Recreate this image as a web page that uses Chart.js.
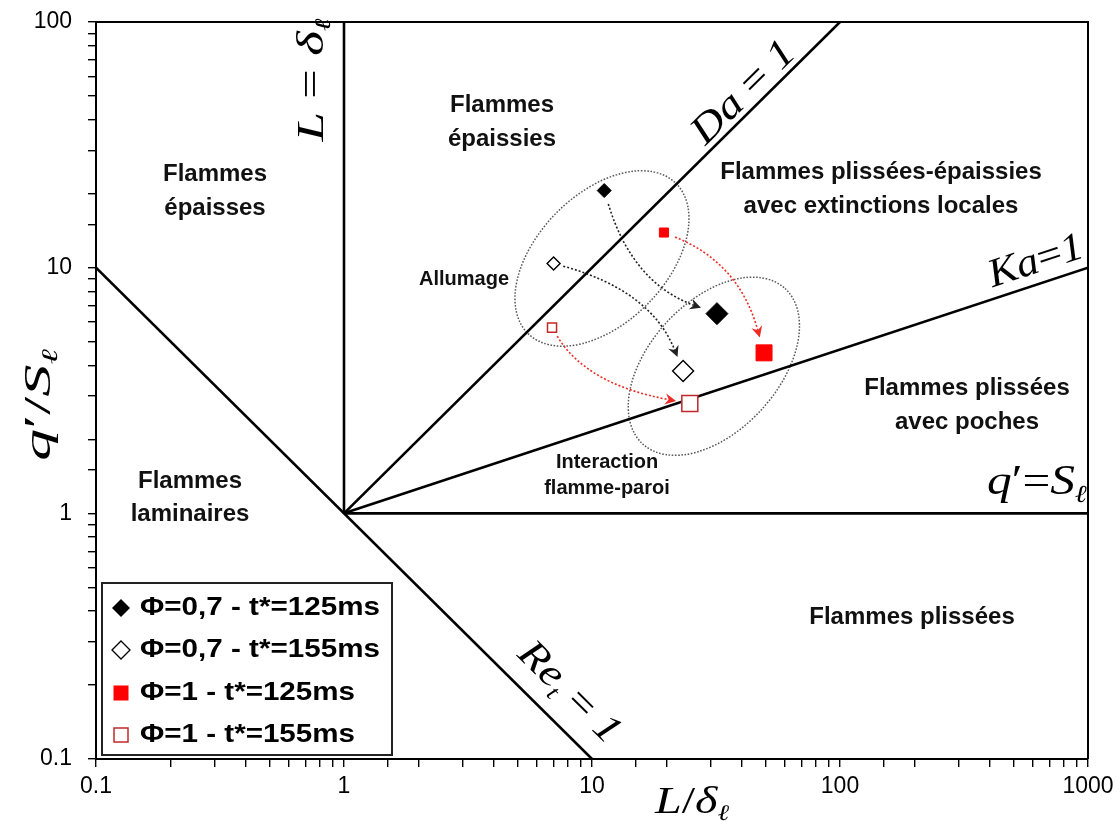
<!DOCTYPE html>
<html><head><meta charset="utf-8">
<script src="https://cdn.jsdelivr.net/npm/chart.js@4.4.1/dist/chart.umd.min.js"></script>
<style>html,body{margin:0;padding:0;background:#fff;}#wrap{width:1120px;height:828px;}</style>
</head><body><div id="wrap"><canvas id="c" width="1120" height="828"></canvas></div>
<script>
// ---- data ----
const xTickLabels = [0.1, 1, 10, 100, 1000];
const yTickLabels = [0.1, 1, 10, 100];

// regime boundaries
const reLineX = [0.1, 10];   const reLineY = [10, 0.1];     // Re_t = 1
const deltaLineX = [1, 1];   const deltaLineY = [1, 100];   // L = delta
const daLineX = [1, 100];    const daLineY = [1, 100];      // Da = 1
const kaLineX = [1, 1000];   const kaLineY = [1, 10];       // Ka = 1
const sLineX = [1, 1000];    const sLineY = [1, 1];         // q' = S

// measured points: [ignition, wall interaction]
const seriesLabels = ['Φ=0,7 - t*=125ms', 'Φ=0,7 - t*=155ms', 'Φ=1 - t*=125ms', 'Φ=1 - t*=155ms'];
const phi07_125X = [11.2, 31.9]; const phi07_125Y = [20.6, 6.5];
const phi07_155X = [7.0, 23.3];  const phi07_155Y = [10.4, 3.8];
const phi1_125X  = [19.5, 49.4]; const phi1_125Y  = [13.9, 4.5];
const phi1_155X  = [6.9, 24.8];  const phi1_155Y  = [5.7, 2.8];

// grouping ellipses (centre in data units)
const ellipseCX = [10.97, 31.0];
const ellipseCY = [10.9, 3.97];

// ---- helpers ----
const toPts = (xs, ys) => xs.map((x, i) => ({x: x, y: ys[i]}));
const lineDs = (xs, ys) => ({data: toPts(xs, ys), showLine: true, borderColor: '#000', borderWidth: 2.6,
  pointRadius: 0, pointHoverRadius: 0, fill: false, order: 1});
const SANS = "'Liberation Sans', Arial, sans-serif";
const SERIF = "'Liberation Serif', 'Times New Roman', serif";

const isDecade = v => Math.abs(Math.log10(v) - Math.round(Math.log10(v))) < 1e-6;
const tickCb = labels => function (v) {
  if (!isDecade(v)) return '';
  const f = labels.find(l => Math.abs(Math.log10(l) - Math.log10(v)) < 1e-6);
  return f === undefined ? '' : String(f);
};

function drawMath(ctx, parts, cx, cy, angleDeg, size, targetLen) {
  ctx.save();
  const segs = parts.map(p => {
    const fs = p.sub ? size * 0.58 : size;
    const font = (p.it ? 'italic ' : '') + fs + 'px ' + SERIF;
    ctx.font = font;
    return {t: p.t, font: font, w: ctx.measureText(p.t).width, dy: p.sub ? size * 0.3 : 0};
  });
  const total = segs.reduce((s, g) => s + g.w, 0);
  const sx = targetLen ? targetLen / total : 1;
  ctx.translate(cx, cy);
  ctx.rotate(angleDeg * Math.PI / 180);
  ctx.scale(sx, 1);
  ctx.textBaseline = 'middle';
  ctx.textAlign = 'left';
  ctx.fillStyle = '#000';
  let x = -total / 2;
  segs.forEach(g => { ctx.font = g.font; ctx.fillText(g.t, x, g.dy); x += g.w; });
  ctx.restore();
}

function fitText(ctx, s, x, y, font, targetW, align) {
  ctx.save();
  ctx.font = font;
  const w = ctx.measureText(s).width;
  const sx = targetW ? targetW / w : 1;
  ctx.translate(x, y);
  ctx.scale(sx, 1);
  ctx.textAlign = align || 'left';
  ctx.textBaseline = 'middle';
  ctx.fillStyle = '#000';
  ctx.fillText(s, 0, 0);
  ctx.restore();
}

// ---- annotation styles ----
const arrowStyles = [
  {color: '#222', mode: 'v', g0: 14, g1: 17},
  {color: '#222', mode: 'h', g0: 10, g1: 15},
  {color: '#ee2a24', mode: 'h', g0: 12, g1: 16},
  {color: '#ee2a24', mode: 'v', g0: 10, g1: 14}
];
const ellipseShape = [{a: 0.425, b: 0.26, tilt: 45.5}, {a: 0.425, b: 0.26, tilt: 47.5}];

const regionLabels = [
  {lines: ['Flammes', 'épaisses'], x: 215, y: [174, 208]},
  {lines: ['Flammes', 'épaissies'], x: 502, y: [105, 139]},
  {lines: ['Flammes plissées-épaissies', 'avec extinctions locales'], x: 881, y: [172, 206]},
  {lines: ['Flammes plissées', 'avec poches'], x: 967, y: [388, 422]},
  {lines: ['Flammes', 'laminaires'], x: 190, y: [481, 514]},
  {lines: ['Flammes plissées'], x: 912, y: [617]}
];
const smallLabels = [
  {lines: ['Allumage'], x: 464, y: [279]},
  {lines: ['Interaction', 'flamme-paroi'], x: 607, y: [462, 488]}
];

const decor = {
  id: 'decor',
  beforeDatasetsDraw(chart) {
    const ctx = chart.ctx, xs = chart.scales.x, ys = chart.scales.y;
    const dec = xs.getPixelForValue(10) - xs.getPixelForValue(1);
    ctx.save();
    ctx.strokeStyle = '#5a5a5a';
    ctx.lineWidth = 1.5;
    ctx.setLineDash([1.6, 1.6]);
    ellipseCX.forEach((cx, i) => {
      const e = ellipseShape[i];
      ctx.beginPath();
      ctx.ellipse(xs.getPixelForValue(cx), ys.getPixelForValue(ellipseCY[i]), e.a * dec, e.b * dec,
        -e.tilt * Math.PI / 180, 0, Math.PI * 2);
      ctx.stroke();
    });
    ctx.restore();
    const pts = [[phi07_125X, phi07_125Y], [phi07_155X, phi07_155Y], [phi1_125X, phi1_125Y], [phi1_155X, phi1_155Y]];
    pts.forEach((p, i) => {
      const st = arrowStyles[i];
      const S = {x: xs.getPixelForValue(p[0][0]), y: ys.getPixelForValue(p[1][0])};
      const E = {x: xs.getPixelForValue(p[0][1]), y: ys.getPixelForValue(p[1][1])};
      const corner = st.mode === 'v' ? {x: S.x, y: E.y} : {x: E.x, y: S.y};
      const M = {x: (S.x + E.x) / 2, y: (S.y + E.y) / 2};
      const C = {x: M.x + 0.5 * (corner.x - M.x), y: M.y + 0.5 * (corner.y - M.y)};
      const unit = (a, b) => { const dx = b.x - a.x, dy = b.y - a.y, l = Math.hypot(dx, dy); return {x: dx / l, y: dy / l}; };
      const u0 = unit(S, C), u1 = unit(E, C);
      const S2 = {x: S.x + u0.x * st.g0, y: S.y + u0.y * st.g0};
      const E2 = {x: E.x + u1.x * st.g1, y: E.y + u1.y * st.g1};
      const d = unit(C, E2);
      const L = 11, W = 5.5;
      const base = {x: E2.x - d.x * L, y: E2.y - d.y * L};
      const notch = {x: E2.x - d.x * (L - 3.5), y: E2.y - d.y * (L - 3.5)};
      ctx.save();
      ctx.strokeStyle = st.color;
      ctx.fillStyle = st.color;
      ctx.lineWidth = 1.6;
      ctx.setLineDash([2, 2]);
      ctx.beginPath();
      ctx.moveTo(S2.x, S2.y);
      ctx.quadraticCurveTo(C.x, C.y, notch.x, notch.y);
      ctx.stroke();
      ctx.setLineDash([]);
      ctx.beginPath();
      ctx.moveTo(E2.x, E2.y);
      ctx.lineTo(base.x - d.y * W, base.y + d.x * W);
      ctx.lineTo(notch.x, notch.y);
      ctx.lineTo(base.x + d.y * W, base.y - d.x * W);
      ctx.closePath();
      ctx.fill();
      ctx.restore();
    });
  },
  afterDraw(chart) {
    const ctx = chart.ctx, a = chart.chartArea;
    ctx.save();
    ctx.strokeStyle = '#000';
    ctx.lineWidth = 2;
    ctx.beginPath();
    ctx.moveTo(a.left, a.top); ctx.lineTo(a.right, a.top); ctx.lineTo(a.right, a.bottom);
    ctx.stroke();
    ctx.restore();
    ctx.save();
    ctx.fillStyle = '#111';
    ctx.textAlign = 'center';
    ctx.textBaseline = 'middle';
    ctx.font = 'bold 24px ' + SANS;
    regionLabels.forEach(l => l.lines.forEach((s, k) => ctx.fillText(s, l.x, l.y[k])));
    ctx.font = 'bold 20px ' + SANS;
    smallLabels.forEach(l => l.lines.forEach((s, k) => ctx.fillText(s, l.x, l.y[k])));
    ctx.restore();
    drawMath(ctx, [{t: 'L', it: 1}, {t: ' = '}, {t: 'δ', it: 1}, {t: 'ℓ', it: 1, sub: 1}], 313, 80, -90, 38, 123);
    drawMath(ctx, [{t: 'Da', it: 1}, {t: ' = '}, {t: '1', it: 1}], 744, 93, -44.7, 40, 130);
    drawMath(ctx, [{t: 'Ka', it: 1}, {t: '='}, {t: '1', it: 1}], 1036, 262, -18.3, 40, 98);
    drawMath(ctx, [{t: 'Re', it: 1}, {t: 't', it: 1, sub: 1}, {t: ' = '}, {t: '1', it: 1}], 569, 693, 44.7, 40, 128);
    drawMath(ctx, [{t: 'q', it: 1}, {t: '′'}, {t: '='}, {t: 'S', it: 1}, {t: 'ℓ', it: 1, sub: 1}], 1037, 483, 0, 42, 100);
    drawMath(ctx, [{t: 'L', it: 1}, {t: '/'}, {t: 'δ', it: 1}, {t: 'ℓ', it: 1, sub: 1}], 692, 803, 0, 38, 74);
    drawMath(ctx, [{t: 'q', it: 1}, {t: '′'}, {t: '/'}, {t: 'S', it: 1}, {t: 'ℓ', it: 1, sub: 1}], 40, 405, -90, 38, 112);
    // legend
    ctx.save();
    ctx.fillStyle = '#fff';
    ctx.fillRect(102, 583, 290, 172);
    ctx.strokeStyle = '#222';
    ctx.lineWidth = 2;
    ctx.strokeRect(102, 583, 290, 172);
    const rows = [608, 650, 693, 735];
    const sx = 121;
    ctx.fillStyle = '#000';
    ctx.beginPath(); ctx.moveTo(sx - 9, rows[0]); ctx.lineTo(sx, rows[0] - 9); ctx.lineTo(sx + 9, rows[0]); ctx.lineTo(sx, rows[0] + 9); ctx.closePath(); ctx.fill();
    ctx.strokeStyle = '#000'; ctx.lineWidth = 1.3;
    ctx.beginPath(); ctx.moveTo(sx - 9, rows[1]); ctx.lineTo(sx, rows[1] - 9); ctx.lineTo(sx + 9, rows[1]); ctx.lineTo(sx, rows[1] + 9); ctx.closePath(); ctx.stroke();
    ctx.fillStyle = '#ff0000'; ctx.fillRect(sx - 7.5, rows[2] - 7.5, 15, 15);
    ctx.strokeStyle = '#c0282a'; ctx.lineWidth = 1.5; ctx.strokeRect(sx - 7, rows[3] - 7, 14, 14);
    const widths = [240, 240, 215, 215];
    seriesLabels.forEach((s, i) => fitText(ctx, s, 140, rows[i], 'bold 26px ' + SANS, widths[i], 'left'));
    ctx.restore();
  }
};

const tickFont = {family: SANS, size: 23};
new Chart(document.getElementById('c'), {
  type: 'scatter',
  data: {
    datasets: [
      {label: seriesLabels[0], data: toPts(phi07_125X, phi07_125Y), pointStyle: 'rectRot', pointRadius: [7, 11],
        backgroundColor: '#000', borderColor: '#000', borderWidth: 1, order: 0},
      {label: seriesLabels[1], data: toPts(phi07_155X, phi07_155Y), pointStyle: 'rectRot', pointRadius: [6.5, 10.5],
        backgroundColor: '#fff', borderColor: '#000', borderWidth: 1.4, order: 0},
      {label: seriesLabels[2], data: toPts(phi1_125X, phi1_125Y), pointStyle: 'rect', pointRadius: [6.4, 11.3],
        backgroundColor: '#ff0000', borderColor: '#ff0000', borderWidth: 1, order: 0},
      {label: seriesLabels[3], data: toPts(phi1_155X, phi1_155Y), pointStyle: 'rect', pointRadius: [6.4, 11.3],
        backgroundColor: '#fff', borderColor: '#c0282a', borderWidth: 1.5, order: 0},
      lineDs(reLineX, reLineY),
      lineDs(deltaLineX, deltaLineY),
      lineDs(daLineX, daLineY),
      lineDs(kaLineX, kaLineY),
      lineDs(sLineX, sLineY)
    ]
  },
  options: {
    responsive: false,
    animation: false,
    devicePixelRatio: 1,
    layout: {padding: {top: 22, right: 32, left: 0, bottom: 0}},
    plugins: {legend: {display: false}, tooltip: {enabled: false}},
    scales: {
      x: {
        type: 'logarithmic', min: 0.1, max: 1000, position: 'bottom',
        ticks: {autoSkip: false, maxRotation: 0, minRotation: 0, padding: 6, color: '#000', font: tickFont, callback: tickCb(xTickLabels)},
        grid: {drawOnChartArea: false, drawTicks: true, tickLength: 8, color: '#000', lineWidth: 1.4},
        border: {display: true, color: '#000', width: 2},
        afterFit: s => { s.height = 69; }
      },
      y: {
        type: 'logarithmic', min: 0.1, max: 100, position: 'left',
        ticks: {autoSkip: false, padding: 16, color: '#000', font: tickFont, callback: tickCb(yTickLabels)},
        grid: {drawOnChartArea: false, drawTicks: true, tickLength: 8, color: '#000', lineWidth: 1.4},
        border: {display: true, color: '#000', width: 2},
        afterFit: s => { s.width = 96; s.paddingTop = 6; s.paddingBottom = 6; }
      }
    }
  },
  plugins: [decor]
});
</script>
</body></html>
